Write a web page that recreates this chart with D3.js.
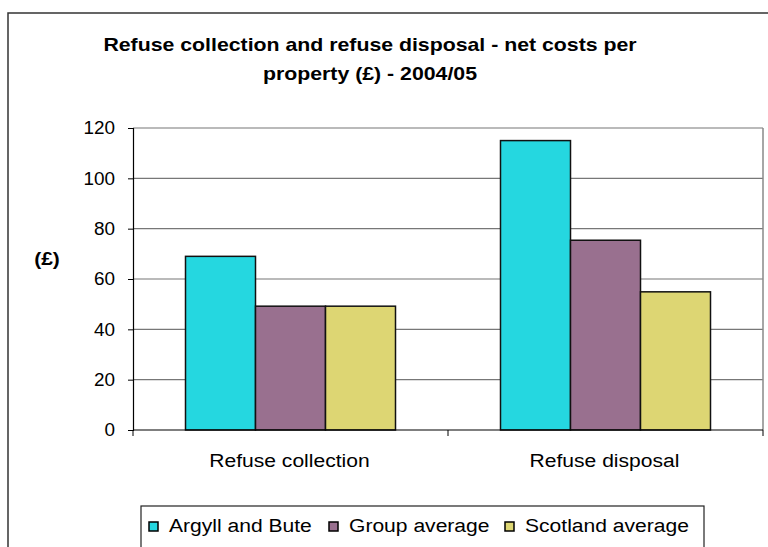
<!DOCTYPE html>
<html>
<head>
<meta charset="utf-8">
<script src="https://cdn.jsdelivr.net/npm/d3@7/dist/d3.min.js"></script>
<style>
  html, body { margin: 0; padding: 0; background: #fff; }
  svg { display: block; font-family: "Liberation Sans", Arial, Helvetica, sans-serif; }
</style>
</head>
<body>
<svg id="chart" width="768" height="547"></svg>
<script>
// Net costs per property (£), 2004/05
const categories = ["Refuse collection", "Refuse disposal"];
const seriesNames = ["Argyll and Bute", "Group average", "Scotland average"];
const argyllAndBute = [69, 115];
const groupAverage = [49.2, 75.4];
const scotlandAverage = [49.2, 54.9];
const yTicks = [0, 20, 40, 60, 80, 100, 120];
const colors = ["#25d7e0", "#99708f", "#ddd673"];

const seriesValues = [argyllAndBute, groupAverage, scotlandAverage];

// widen glyphs horizontally (the chart font is a wide grotesque)
function widen(sel, factor) {
  sel.each(function () {
    const w = this.getComputedTextLength();
    d3.select(this).attr("textLength", w * factor).attr("lengthAdjust", "spacingAndGlyphs");
  });
}

const svg = d3.select("#chart");

// outer chart frame
svg.append("rect")
  .attr("x", 8).attr("y", 13)
  .attr("width", 800).attr("height", 600)
  .attr("fill", "none").attr("stroke", "#333").attr("stroke-width", 1.5);

// title
const title = svg.append("text")
  .attr("text-anchor", "middle")
  .attr("font-weight", "bold")
  .attr("font-size", 18.5)
  .attr("fill", "#000");
title.append("tspan").attr("x", 370).attr("y", 51)
  .text("Refuse collection and refuse disposal - net costs per");
title.append("tspan").attr("x", 370).attr("y", 80)
  .text("property (£) - 2004/05");
widen(title.selectAll("tspan"), 1.15);

const plot = { left: 133, right: 763, top: 128, bottom: 430 };

const x = d3.scaleBand().domain(categories).range([plot.left, plot.right]).padding(0);
const xInner = d3.scaleBand().domain(d3.range(seriesNames.length))
  .range([0, x.bandwidth()]).paddingInner(0).paddingOuter(0.75);
const y = d3.scaleLinear().domain([0, 120]).range([plot.bottom, plot.top]);

// gridlines
svg.append("g")
  .selectAll("line")
  .data(yTicks.filter(t => t > 0))
  .join("line")
  .attr("x1", plot.left).attr("x2", plot.right)
  .attr("y1", d => y(d)).attr("y2", d => y(d))
  .attr("stroke", "#777").attr("stroke-width", 1.2);

// right border of plot area
svg.append("line")
  .attr("x1", plot.right).attr("x2", plot.right)
  .attr("y1", plot.top).attr("y2", plot.bottom)
  .attr("stroke", "#888").attr("stroke-width", 1.5);

// bars
const groups = svg.append("g")
  .selectAll("g")
  .data(categories)
  .join("g")
  .attr("transform", d => `translate(${x(d)},0)`);

groups.selectAll("rect")
  .data((d, ci) => seriesValues.map((vals, si) => ({ si, v: vals[ci] })))
  .join("rect")
  .attr("x", d => xInner(d.si))
  .attr("width", xInner.bandwidth())
  .attr("y", d => y(d.v))
  .attr("height", d => y(0) - y(d.v))
  .attr("fill", d => colors[d.si])
  .attr("stroke", "#111")
  .attr("stroke-width", 1.5);

// y axis
const yAxis = d3.axisLeft(y).tickValues(yTicks).tickSize(5).tickPadding(13);
const gy = svg.append("g").attr("transform", `translate(${plot.left},0)`).call(yAxis);
gy.select(".domain").attr("stroke", "#000").attr("stroke-width", 1.2);
gy.selectAll(".tick line").attr("stroke", "#000");
gy.selectAll(".tick text").attr("font-size", 18).attr("fill", "#000")
  .attr("font-family", "Liberation Sans, Arial, sans-serif");
widen(gy.selectAll(".tick text"), 1.05);

// x axis with tick marks at category boundaries
const gx = svg.append("g").attr("transform", `translate(0,${plot.bottom})`);
gx.append("line")
  .attr("x1", plot.left).attr("x2", plot.right)
  .attr("stroke", "#000").attr("stroke-width", 1.2);
const boundaries = categories.map(c => x(c)).concat([plot.right]);
gx.selectAll("line.tk")
  .data(boundaries)
  .join("line").attr("class", "tk")
  .attr("x1", d => d).attr("x2", d => d)
  .attr("y1", 0).attr("y2", 6)
  .attr("stroke", "#000");
const xLabels = gx.selectAll("text")
  .data(categories)
  .join("text")
  .attr("x", d => x(d) + x.bandwidth() / 2 - 1)
  .attr("y", 37)
  .attr("text-anchor", "middle")
  .attr("font-size", 18)
  .attr("fill", "#000")
  .text(d => d);
widen(xLabels, 1.17);

// y axis label
const yLabel = svg.append("text")
  .attr("x", 47).attr("y", 265)
  .attr("text-anchor", "middle")
  .attr("font-weight", "bold")
  .attr("font-size", 17.5)
  .text("(£)");
widen(yLabel, 1.2);

// legend
const legend = svg.append("g");
legend.append("rect")
  .attr("x", 141).attr("y", 506)
  .attr("width", 563).attr("height", 60)
  .attr("fill", "#fff").attr("stroke", "#222").attr("stroke-width", 1.2);
const legendX = [149, 329, 505];
const items = legend.selectAll("g.item")
  .data(seriesNames)
  .join("g").attr("class", "item")
  .attr("transform", (d, i) => `translate(${legendX[i]},522)`);
items.append("rect")
  .attr("width", 9).attr("height", 9)
  .attr("fill", (d, i) => colors[i])
  .attr("stroke", "#000").attr("stroke-width", 1.5);
const legendText = items.append("text")
  .attr("x", 20).attr("y", 9.5)
  .attr("font-size", 18)
  .attr("fill", "#000")
  .text(d => d);
widen(legendText, 1.17);
</script>
</body>
</html>
